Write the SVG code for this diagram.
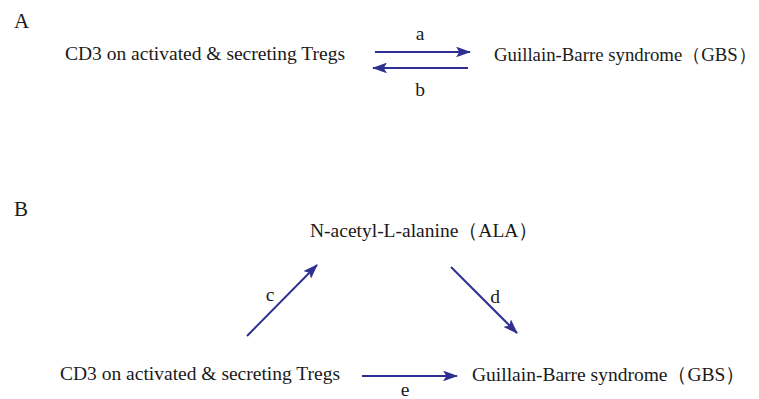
<svg xmlns="http://www.w3.org/2000/svg" width="759" height="399" viewBox="0 0 759 399">
<style>
text{font-family:"Liberation Serif","Times New Roman",serif;fill:#1a1a1a;font-size:19.5px}
.panel{font-size:21px}
.lbl{text-anchor:middle}
.c{stroke:#2f2f92;stroke-width:2;fill:none}
</style>
<defs>
<marker id="ah" viewBox="0 0 14 10" refX="13" refY="5" markerUnits="userSpaceOnUse" markerWidth="15" markerHeight="11" orient="auto">
<path d="M0,0 L14,5 L0,10 L3,5 z" fill="#2f2f92"/>
</marker>
</defs>
<rect width="759" height="399" fill="#fff"/>
<text class="panel" x="14" y="28">A</text>
<text class="panel" x="14" y="216">B</text>
<g id="nodeA1"><text x="65" y="60">CD3 on activated &amp; secreting Tregs</text></g>
<g id="nodeA2"><text x="494" y="61" style="font-size:18.8px">Guillain-Barre syndrome（GBS）</text></g>
<g id="nodeB1"><text x="310" y="237">N-acetyl-L-alanine（ALA）</text></g>
<g id="nodeB2"><text x="60" y="380">CD3 on activated &amp; secreting Tregs</text></g>
<g id="nodeB3"><text x="472" y="381">Guillain-Barre syndrome（GBS）</text></g>
<g id="connectors">
<line class="c" x1="375" y1="52" x2="470" y2="52" marker-end="url(#ah)"/>
<line class="c" x1="468" y1="68" x2="373" y2="68" marker-end="url(#ah)"/>
<line class="c" x1="247" y1="336" x2="317" y2="265" marker-end="url(#ah)"/>
<line class="c" x1="451" y1="267" x2="517" y2="333" marker-end="url(#ah)"/>
<line class="c" x1="362" y1="376" x2="457" y2="376" marker-end="url(#ah)"/>
<text class="lbl" x="420" y="40">a</text>
<text class="lbl" x="420" y="96">b</text>
<text class="lbl" x="270" y="301">c</text>
<text class="lbl" x="495" y="303">d</text>
<text class="lbl" x="405" y="396">e</text>
</g>
</svg>
